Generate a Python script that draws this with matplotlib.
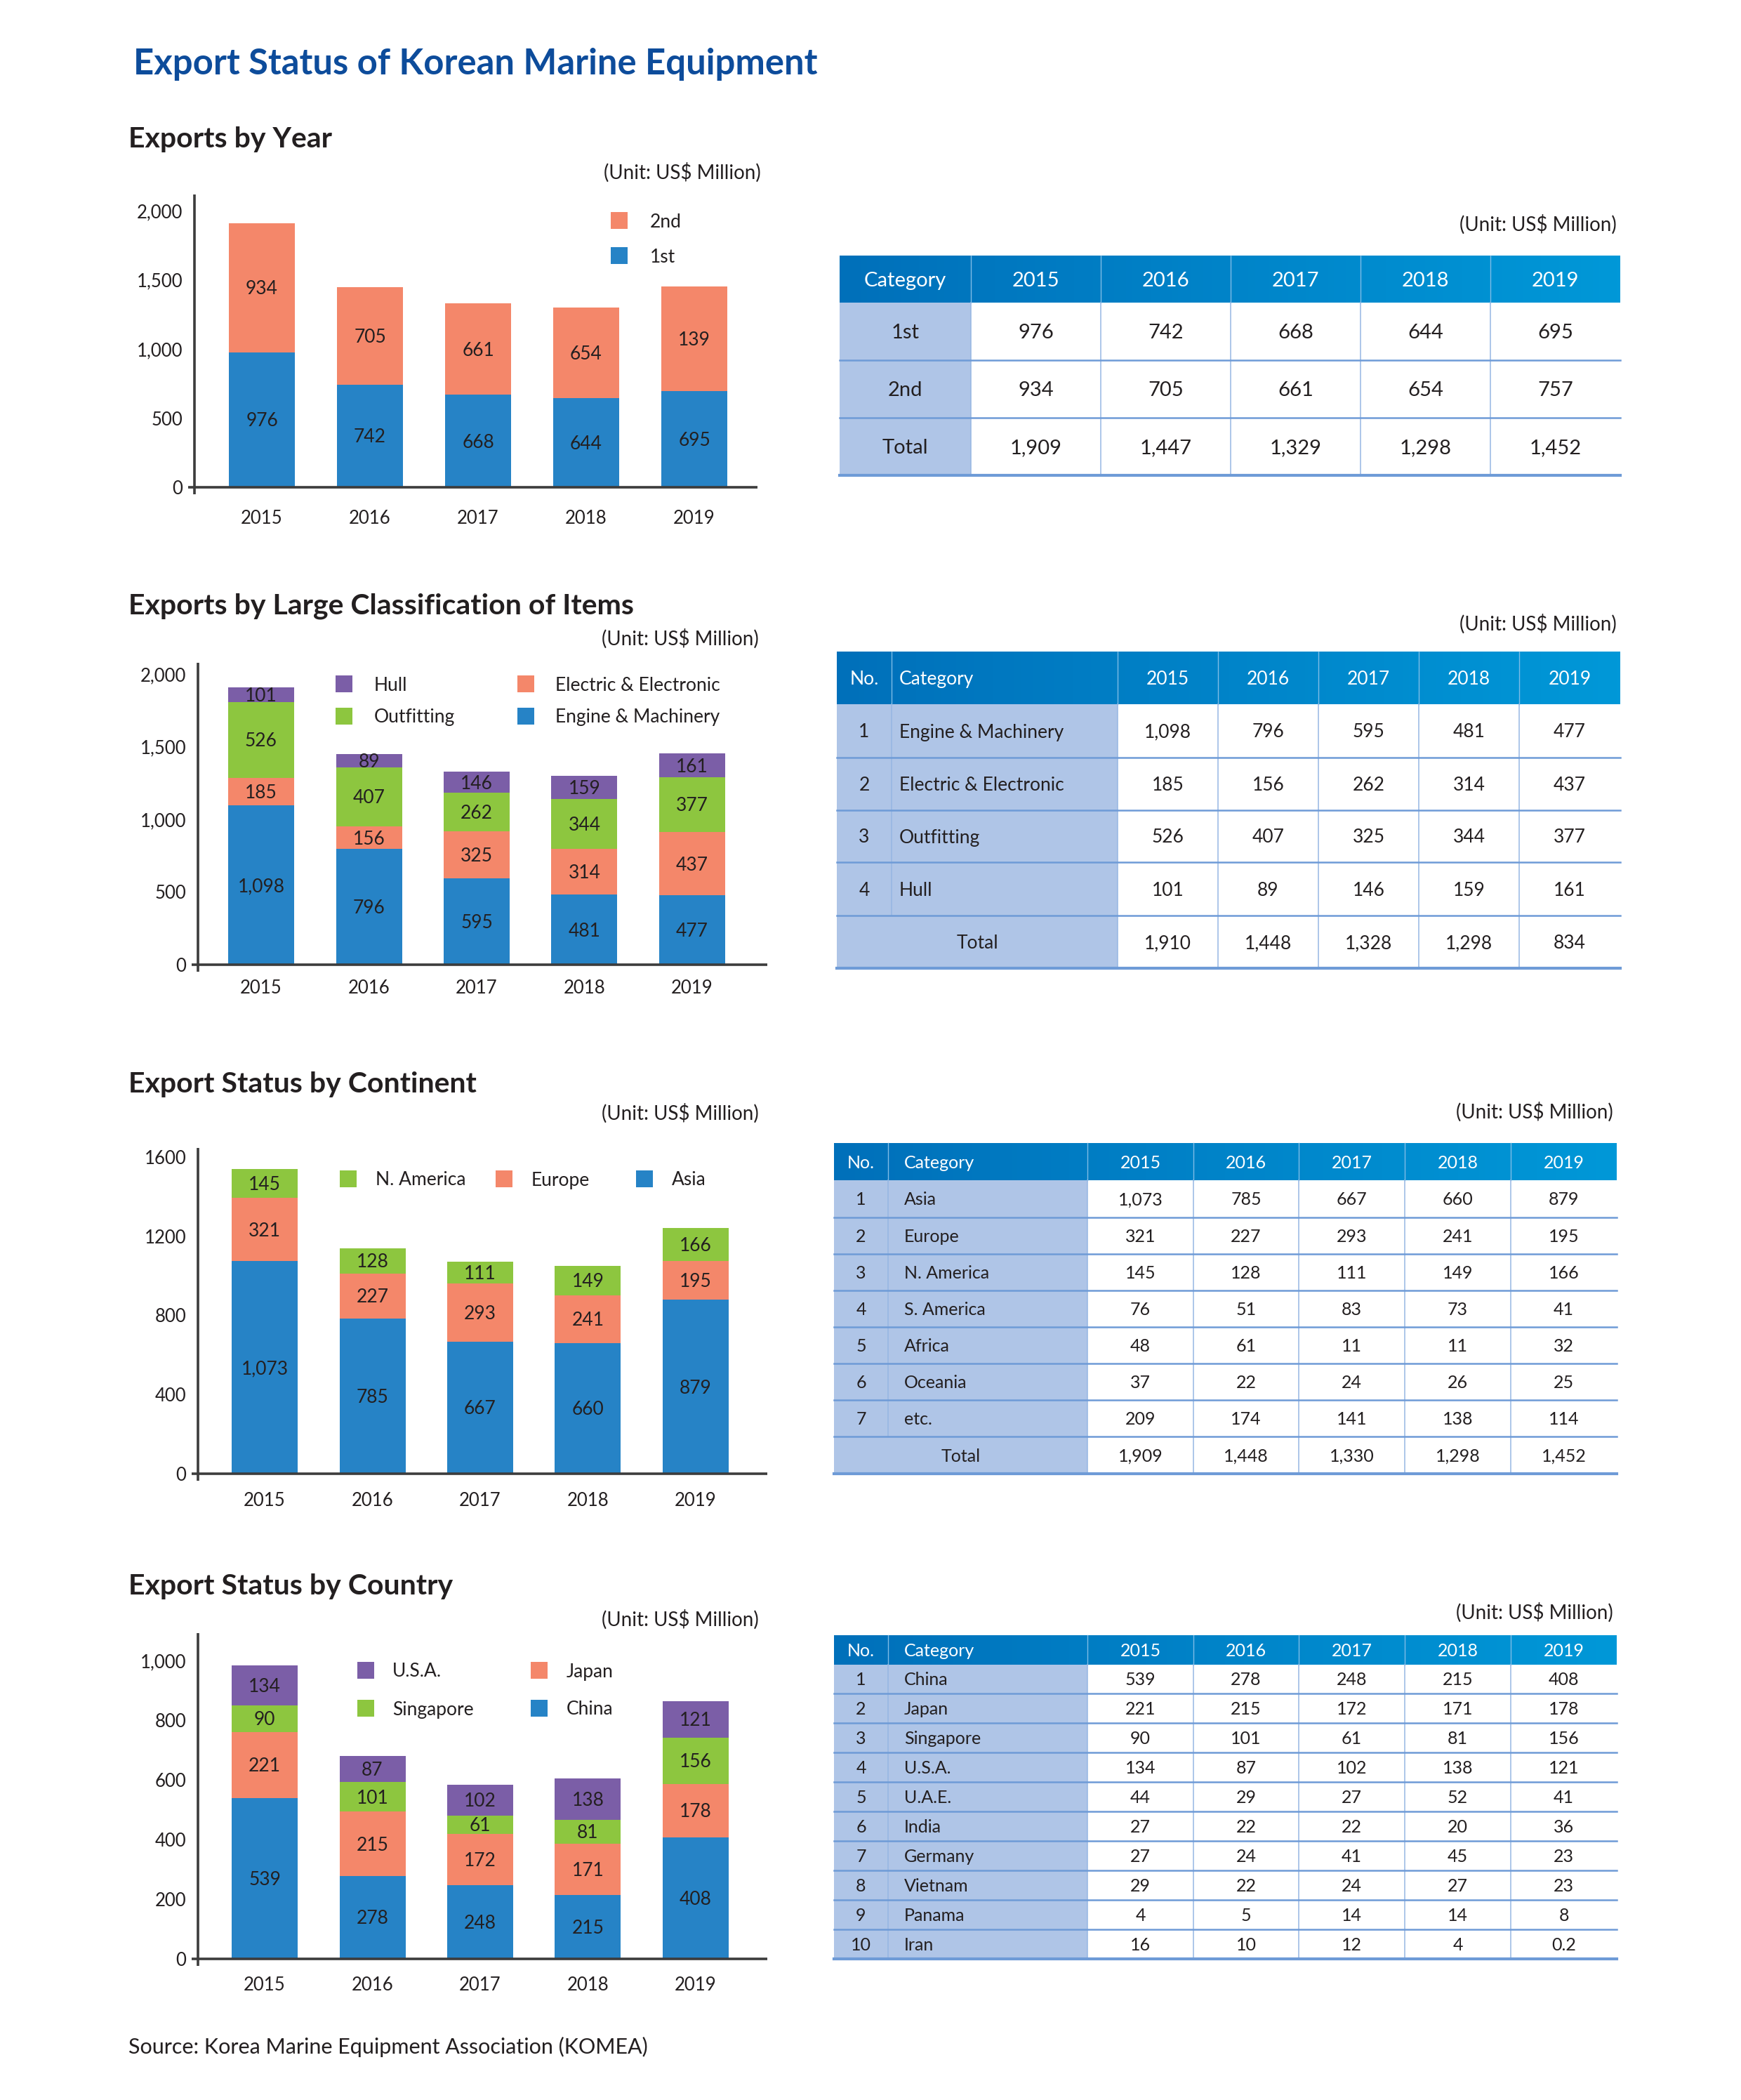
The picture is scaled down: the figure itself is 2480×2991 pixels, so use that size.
import matplotlib
matplotlib.use('Agg')
import matplotlib.pyplot as plt
from matplotlib.patches import Rectangle
from matplotlib.transforms import offset_copy
import numpy as np

W, H = 2480, 2991
plt.rcParams['font.family'] = ['Lato', 'DejaVu Sans']

# ---------------- data ----------------
years = ['2015', '2016', '2017', '2018', '2019']

# exports by year
first = [976, 742, 668, 644, 695]
second = [934, 705, 661, 654, 757]
second_bar_labels = ['934', '705', '661', '654', '139']   # as printed on the chart
year_totals = ['1,909', '1,447', '1,329', '1,298', '1,452']

# large classification of items
engine = [1098, 796, 595, 481, 477]
electric = [185, 156, 262, 314, 437]
outfitting = [526, 407, 325, 344, 377]
hull = [101, 89, 146, 159, 161]
# the chart swaps the 2017 electric / outfitting values
electric_chart = [185, 156, 325, 314, 437]
outfitting_chart = [526, 407, 262, 344, 377]
item_totals = ['1,910', '1,448', '1,328', '1,298', '834']
item_names = ['Engine & Machinery', 'Electric & Electronic', 'Outfitting', 'Hull']

# continents
continents = ['Asia', 'Europe', 'N. America', 'S. America', 'Africa', 'Oceania', 'etc.']
continent_vals = [
    [1073, 785, 667, 660, 879],
    [321, 227, 293, 241, 195],
    [145, 128, 111, 149, 166],
    [76, 51, 83, 73, 41],
    [48, 61, 11, 11, 32],
    [37, 22, 24, 26, 25],
    [209, 174, 141, 138, 114],
]
continent_totals = ['1,909', '1,448', '1,330', '1,298', '1,452']

# countries
countries = ['China', 'Japan', 'Singapore', 'U.S.A.', 'U.A.E.', 'India',
             'Germany', 'Vietnam', 'Panama', 'Iran']
country_vals = [
    [539, 278, 248, 215, 408],
    [221, 215, 172, 171, 178],
    [90, 101, 61, 81, 156],
    [134, 87, 102, 138, 121],
    [44, 29, 27, 52, 41],
    [27, 22, 22, 20, 36],
    [27, 24, 41, 45, 23],
    [29, 22, 24, 27, 23],
    [4, 5, 14, 14, 8],
    [16, 10, 12, 4, 0.2],
]

BLUE = '#2683C6'
SALMON = '#F4876A'
GREEN = '#8DC63F'
PURPLE = '#7B5EA7'
INK = '#231F20'
AXIS = '#3C3C3C'
LIGHT = '#AFC5E7'
HLINE = '#6E9BD7'
VLINE = '#96B6E3'

fig = plt.figure(figsize=(W / 100, H / 100), dpi=100)

ov = fig.add_axes([0, 0, 1, 1], zorder=5)
ov.set_xlim(0, W)
ov.set_ylim(H, 0)
ov.axis('off')
ov.patch.set_alpha(0)


def fmt(v):
    if isinstance(v, str):
        return v
    if v != int(v):
        return str(v)
    return f'{int(v):,}'


def txt(x, y, s, size, ha='left', color=INK, weight='normal'):
    # y is the visual centre of the capitals (pixel coords)
    ov.text(x, y + size * 0.5, s, fontsize=size, ha=ha, va='baseline',
            color=color, fontweight=weight)


def chart(left, right, top, base, c0, step, ppu, series, colors, labels,
          yticks, ytick_labels, xpad):
    ax = fig.add_axes([left / W, 1 - base / H, (right - left) / W, (base - top) / H])
    ax.patch.set_alpha(0)
    ax.set_xlim((left - c0) / step, (right - c0) / step)
    ax.set_ylim(0, (base - top) / ppu)
    x = np.arange(len(years))
    bottom = np.zeros(len(years))
    tr = offset_copy(ax.transData, fig=fig, y=-9.5, units='dots')
    for vals, col, labs in zip(series, colors, labels):
        vals = np.array(vals, float)
        ax.bar(x, vals, 94 / step, bottom=bottom, color=col, linewidth=0, zorder=2)
        for xi, b, v, lab in zip(x, bottom, vals, labs):
            ax.text(xi, b + v / 2, lab, ha='center', va='baseline', fontsize=19,
                    color=INK, transform=tr, zorder=3)
        bottom += vals
    for s in ax.spines.values():
        s.set_visible(False)
    hgt = base - top
    wid = right - left
    ax.plot([0, 0], [-10 / hgt, 1], transform=ax.transAxes, color=AXIS,
            lw=2.6, clip_on=False, solid_capstyle='butt', zorder=4)
    ax.plot([-9 / wid, 1], [0, 0], transform=ax.transAxes, color=AXIS,
            lw=2.6, clip_on=False, solid_capstyle='butt', zorder=4)
    ax.set_yticks(yticks)
    ax.set_yticklabels(ytick_labels)
    ax.set_xticks(x)
    ax.set_xticklabels(years)
    ax.tick_params(axis='y', length=0, pad=12, labelsize=18.5, labelcolor=INK)
    ax.tick_params(axis='x', length=0, pad=xpad, labelsize=18.5, labelcolor=INK)
    return ax


def legend_item(x, yc, color, label, tx):
    ov.add_patch(Rectangle((x, yc - 12), 24, 24, color=color, lw=0))
    txt(tx, yc, label, 19)


grad = np.linspace(0, 1, 256).reshape(1, -1)
hdr_cmap = matplotlib.colors.LinearSegmentedColormap.from_list('hdr', ['#0070BA', '#0098D8'])


def table(cols, rows, header, header_align, body, fs, shade, total=None, cat_pad=11):
    x0, x1 = cols[0], cols[-1]
    ov.imshow(grad, extent=(x0, x1, rows[1], rows[0]), aspect='auto',
              cmap=hdr_cmap, zorder=1)
    ov.add_patch(Rectangle((x0, rows[1]), cols[shade] - x0, rows[-1] - rows[1],
                           color=LIGHT, lw=0, zorder=1))
    for i, cx in enumerate(cols[1:-1]):
        ov.plot([cx, cx], [rows[0], rows[1]], color='#7FBCE6', lw=1.0, zorder=2)
        yb = rows[-2] if (total is not None and i == 0 and shade == 2) else rows[-1]
        ov.plot([cx, cx], [rows[1], yb], color=VLINE, lw=1.1, zorder=2)
    for ry in rows[2:-1]:
        ov.plot([x0, x1], [ry, ry], color=HLINE, lw=1.8, zorder=3)
    ov.plot([x0, x1], [rows[-1], rows[-1]], color=HLINE, lw=3.0, zorder=3)

    def cell_text(ci, yc, s, align, color):
        if align == 'left':
            ov.text(cols[ci] + cat_pad, yc + fs * 0.5, s, fontsize=fs, ha='left',
                    va='baseline', color=color, zorder=4)
        else:
            ov.text((cols[ci] + cols[ci + 1]) / 2, yc + fs * 0.5, s, fontsize=fs,
                    ha='center', va='baseline', color=color, zorder=4)

    yc = (rows[0] + rows[1]) / 2
    for ci, (h, a) in enumerate(zip(header, header_align)):
        cell_text(ci, yc, h, a, 'white')
    for ri, row in enumerate(body):
        yc = (rows[ri + 1] + rows[ri + 2]) / 2
        for ci, (v, a) in enumerate(zip(row, header_align)):
            cell_text(ci, yc, fmt(v), a, INK)
    if total is not None:
        yc = (rows[-2] + rows[-1]) / 2
        ov.text((cols[0] + cols[shade]) / 2, yc + fs * 0.5, 'Total', fontsize=fs,
                ha='center', va='baseline', color=INK, zorder=4)
        for ci, v in enumerate(total):
            cell_text(shade + ci, yc, v, 'center', INK)


# ---------------- titles ----------------
ov.text(190, 106, 'Export Status of Korean Marine Equipment', fontsize=36.5,
        fontweight='bold', color='#0D4C9B', va='baseline')
for y, s in [(210, 'Exports by Year'), (874, 'Exports by Large Classification of Items'),
             (1556, 'Export Status by Continent'), (2271, 'Export Status by Country')]:
    ov.text(183, y, s, fontsize=29.5, fontweight='bold', color=INK, va='baseline')
for x, y in [(1084, 245), (1081, 909), (1081, 1585), (1081, 2306),
             (2303, 319), (2303, 888), (2298, 1583), (2298, 2296)]:
    txt(x, y, '(Unit: US$ Million)', 20, ha='right')
txt(183, 2914, 'Source: Korea Marine Equipment Association (KOMEA)', 22)

# ---------------- charts ----------------
chart(277, 1079, 277, 694, 373, 154, 0.197,
      [first, second], [BLUE, SALMON],
      [[fmt(v) for v in first], second_bar_labels],
      [0, 500, 1000, 1500, 2000], ['0', '500', '1,000', '1,500', '2,000'], 23)
legend_item(870, 314, SALMON, '2nd', 926)
legend_item(870, 364, BLUE, '1st', 926)

chart(282, 1093, 944, 1374, 372, 153.5, 0.207,
      [engine, electric_chart, outfitting_chart, hull], [BLUE, SALMON, GREEN, PURPLE],
      [[fmt(v) for v in s] for s in [engine, electric_chart, outfitting_chart, hull]],
      [0, 500, 1000, 1500, 2000], ['0', '500', '1,000', '1,500', '2,000'], 15)
legend_item(478, 974, PURPLE, 'Hull', 533)
legend_item(737, 974, SALMON, 'Electric & Electronic', 791)
legend_item(478, 1020, GREEN, 'Outfitting', 533)
legend_item(737, 1020, BLUE, 'Engine & Machinery', 791)

chart(282, 1093, 1635, 2099, 377, 153.5, 0.282,
      continent_vals[:3], [BLUE, SALMON, GREEN],
      [[fmt(v) for v in s] for s in continent_vals[:3]],
      [0, 400, 800, 1200, 1600], ['0', '400', '800', '1200', '1600'], 19)
legend_item(484, 1679, GREEN, 'N. America', 535)
legend_item(706, 1679, SALMON, 'Europe', 757)
legend_item(906, 1679, BLUE, 'Asia', 957)

chart(282, 1093, 2326, 2790, 377, 153.5, 0.425,
      country_vals[:4], [BLUE, SALMON, GREEN, PURPLE],
      [[fmt(v) for v in s] for s in country_vals[:4]],
      [0, 200, 400, 600, 800, 1000], ['0', '200', '400', '600', '800', '1,000'], 18)
legend_item(509, 2379, PURPLE, 'U.S.A.', 559)
legend_item(756, 2379, SALMON, 'Japan', 807)
legend_item(509, 2433, GREEN, 'Singapore', 559)
legend_item(756, 2433, BLUE, 'China', 807)

# ---------------- tables ----------------
table([1196, 1383, 1568, 1753, 1938, 2123, 2308], [364, 431, 513, 595, 677],
      ['Category'] + years, ['center'] * 6,
      [['1st'] + first, ['2nd'] + second, ['Total'] + year_totals], 21, 1)

item_table_vals = [engine, electric, outfitting, hull]
table([1192, 1270, 1592, 1735, 1878, 2021, 2164, 2308],
      [928, 1003, 1079, 1154, 1228, 1304, 1379],
      ['No.', 'Category'] + years, ['center', 'left'] + ['center'] * 5,
      [[str(i + 1), n] + v for i, (n, v) in enumerate(zip(item_names, item_table_vals))],
      19, 2, total=item_totals, cat_pad=11)

table([1188, 1265, 1549, 1700, 1850, 2001, 2152, 2303],
      [1628, 1681, 1734, 1786, 1838, 1890, 1942, 1994, 2046, 2099],
      ['No.', 'Category'] + years, ['center', 'left'] + ['center'] * 5,
      [[str(i + 1), n] + v for i, (n, v) in enumerate(zip(continents, continent_vals))],
      18, 2, total=continent_totals, cat_pad=23)

table([1188, 1265, 1549, 1700, 1850, 2001, 2152, 2303],
      [2329, 2371, 2412, 2454, 2496, 2538, 2580, 2622, 2664, 2706, 2748, 2790],
      ['No.', 'Category'] + years, ['center', 'left'] + ['center'] * 5,
      [[str(i + 1), n] + v for i, (n, v) in enumerate(zip(countries, country_vals))],
      18, 2, cat_pad=23)

ov.set_xlim(0, W)
ov.set_ylim(H, 0)

fig.savefig('out.png', dpi=100, facecolor='white')
